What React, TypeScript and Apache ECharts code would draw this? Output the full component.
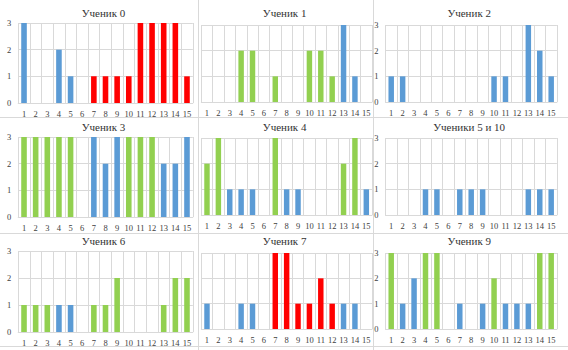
import React, { useEffect, useRef } from "react";
import * as echarts from "echarts";

const categories = ["1","2","3","4","5","6","7","8","9","10","11","12","13","14","15"];
const yTicks = [0, 1, 2, 3];

const titles = ["Ученик 0","Ученик 1","Ученик 2","Ученик 3","Ученик 4","Ученики 5 и 10","Ученик 6","Ученик 7","Ученик 9"];

const values0 = [3,0,0,2,1,0,1,1,1,1,3,3,3,3,1];
const colors0 = "BBBBBBRRRRRRRRR";
const values1 = [0,0,0,2,2,0,1,0,0,2,2,1,3,1,0];
const colors1 = "GGGGGGGGGGGGBBB";
const values2 = [1,1,0,0,0,0,0,0,0,1,1,0,3,2,1];
const colors2 = "BBBBBBBBBBBBBBB";
const values3 = [3,3,3,3,3,0,3,2,3,3,3,3,2,2,3];
const colors3 = "GGGGGGBBBGGGBBB";
const values4 = [2,3,1,1,1,0,3,1,1,0,0,0,2,3,1];
const colors4 = "GGBBBBGBBBBBGGB";
const values5 = [0,0,0,1,1,0,1,1,1,0,0,0,1,1,1];
const colors5 = "BBBBBBBBBBBBBBB";
const values6 = [1,1,1,1,1,0,1,1,2,0,0,0,1,2,2];
const colors6 = "GGGBBBGGGGGGGGG";
const values7 = [1,0,0,1,1,0,3,3,1,1,2,1,1,1,0];
const colors7 = "BBBBBBRRRRRRBBB";
const values9 = [3,1,2,3,3,0,1,0,1,2,1,1,1,3,3];
const colors9 = "GBBGGBBBBGBBBGG";

const panelValues = [values0, values1, values2, values3, values4, values5, values6, values7, values9];
const panelColors = [colors0, colors1, colors2, colors3, colors4, colors5, colors6, colors7, colors9];

const COLOR_MAP: Record<string, string> = { B: "#5B9BD5", G: "#92D050", R: "#FF0000" };

const colLayout = [
  { left: 18.2, width: 174.6, showY: true },
  { left: 201.3, width: 170.7, showY: false },
  { left: 385.5, width: 171.4, showY: true },
];
const rowLayoutCol0 = [
  { top: 23, height: 80, titleY: 7 },
  { top: 137, height: 80, titleY: 121 },
  { top: 251, height: 81, titleY: 235 },
];
const rowLayoutOther = [
  { top: 25, height: 77, titleY: 7 },
  { top: 138, height: 77, titleY: 121 },
  { top: 253, height: 76, titleY: 235 },
];

const GRID_COLOR = "#D9D9D9";
const FONT = "Times New Roman, Liberation Serif, DejaVu Serif, serif";

export default function App() {
  const ref = useRef<HTMLDivElement>(null);
  useEffect(() => {
    if (!ref.current) return;
    const chart = echarts.init(ref.current, undefined, { renderer: "svg" });
    const grids: any[] = [];
    const xAxes: any[] = [];
    const yAxes: any[] = [];
    const series: any[] = [];
    const title: any[] = [];
    for (let i = 0; i < 9; i++) {
      const c = i % 3;
      const r = Math.floor(i / 3);
      const cl = colLayout[c];
      const rl = c === 0 ? rowLayoutCol0[r] : rowLayoutOther[r];
      grids.push({ left: cl.left, top: rl.top, width: cl.width, height: rl.height, containLabel: false });
      title.push({
        text: titles[i],
        left: cl.left + cl.width / 2 - 2,
        top: rl.titleY,
        padding: 0,
        textAlign: "center",
        textStyle: { fontFamily: FONT, fontSize: 11, fontWeight: "normal", color: "#333333" },
      });
      xAxes.push({
        type: "category",
        gridIndex: i,
        data: categories,
        axisLine: { show: true, lineStyle: { color: GRID_COLOR } },
        axisTick: { show: false },
        axisLabel: { interval: 0, margin: 6, fontFamily: FONT, fontSize: 8.5, color: "#404040" },
        splitLine: { show: true, interval: 0, lineStyle: { color: GRID_COLOR, width: 1 } },
      });
      yAxes.push({
        type: "value",
        gridIndex: i,
        min: yTicks[0],
        max: yTicks[yTicks.length - 1],
        interval: 1,
        axisLine: { show: false },
        axisTick: { show: false },
        axisLabel: { show: cl.showY, margin: 7, fontFamily: FONT, fontSize: 8.5, color: "#404040" },
        splitLine: { show: true, lineStyle: { color: GRID_COLOR, width: 1 } },
      });
      const vals = panelValues[i];
      const cols = panelColors[i];
      series.push({
        type: "bar",
        xAxisIndex: i,
        yAxisIndex: i,
        barWidth: "48%",
        data: vals.map((v, k) => ({ value: v, itemStyle: { color: COLOR_MAP[cols[k]] } })),
      });
    }
    const sepStyle = { stroke: GRID_COLOR, lineWidth: 1 };
    chart.setOption({
      animation: false,
      backgroundColor: "#ffffff",
      textStyle: { fontFamily: FONT },
      title,
      grid: grids,
      xAxis: xAxes,
      yAxis: yAxes,
      series,
      graphic: [
        { type: "line", shape: { x1: 198.5, y1: 0, x2: 198.5, y2: 350 }, style: sepStyle, silent: true },
        { type: "line", shape: { x1: 373.5, y1: 0, x2: 373.5, y2: 350 }, style: sepStyle, silent: true },
        { type: "line", shape: { x1: 0, y1: 117.5, x2: 568, y2: 117.5 }, style: sepStyle, silent: true },
        { type: "line", shape: { x1: 0, y1: 233.5, x2: 568, y2: 233.5 }, style: sepStyle, silent: true },
        { type: "line", shape: { x1: 0, y1: 346.5, x2: 568, y2: 346.5 }, style: sepStyle, silent: true },
      ],
    });
    return () => chart.dispose();
  }, []);
  return (
    <div
      ref={ref}
      style={{ position: "fixed", left: 0, top: 0, width: 568, height: 350, background: "#fff" }}
    />
  );
}
